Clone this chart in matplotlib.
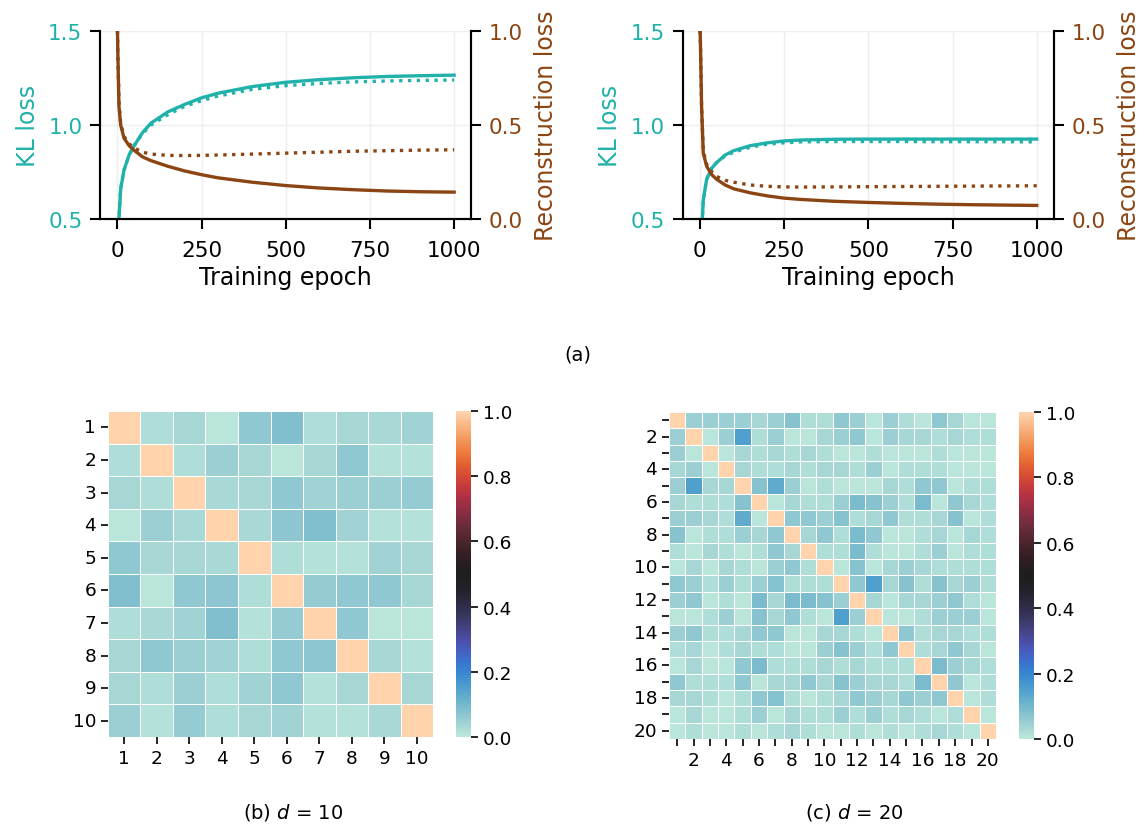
import numpy as np
import matplotlib
matplotlib.use("Agg")
import matplotlib.pyplot as plt
import seaborn as sns

TEAL = "#20b2aa"
BROWN = "#8b4513"

epochs = [0, 2, 5, 10, 20, 35, 50, 75, 100, 150, 200, 250, 300, 400, 500,
          600, 700, 800, 900, 1000]

# d = 10 run
kl10_solid = [0.10, 0.30, 0.50, 0.66, 0.76, 0.84, 0.89, 0.96, 1.01, 1.07, 1.11,
              1.145, 1.17, 1.205, 1.228, 1.242, 1.252, 1.259, 1.263, 1.266]
kl10_dotted = [0.10, 0.30, 0.50, 0.66, 0.76, 0.84, 0.89, 0.955, 1.0, 1.055, 1.10,
               1.13, 1.155, 1.19, 1.21, 1.222, 1.23, 1.235, 1.238, 1.24]
rec10_solid = [1.05, 0.85, 0.60, 0.50, 0.43, 0.39, 0.365, 0.33, 0.31, 0.28, 0.255,
               0.235, 0.218, 0.195, 0.177, 0.164, 0.155, 0.148, 0.144, 0.142]
rec10_dotted = [1.05, 0.85, 0.62, 0.51, 0.44, 0.40, 0.378, 0.355, 0.345, 0.338,
                0.337, 0.338, 0.34, 0.345, 0.35, 0.355, 0.36, 0.363, 0.366, 0.368]

# d = 20 run
kl20_solid = [0.10, 0.25, 0.42, 0.60, 0.71, 0.77, 0.80, 0.84, 0.863, 0.89, 0.905,
              0.915, 0.92, 0.924, 0.925, 0.925, 0.925, 0.925, 0.925, 0.925]
kl20_dotted = [0.10, 0.25, 0.42, 0.60, 0.71, 0.77, 0.80, 0.835, 0.855, 0.882, 0.898,
               0.905, 0.91, 0.912, 0.912, 0.912, 0.911, 0.911, 0.911, 0.91]
rec20_solid = [1.05, 0.90, 0.60, 0.35, 0.28, 0.235, 0.21, 0.18, 0.16, 0.138, 0.122,
               0.11, 0.103, 0.093, 0.087, 0.082, 0.078, 0.075, 0.073, 0.071]
rec20_dotted = [1.05, 0.90, 0.60, 0.36, 0.29, 0.25, 0.225, 0.205, 0.195, 0.18, 0.173,
                0.17, 0.169, 0.17, 0.171, 0.172, 0.173, 0.174, 0.175, 0.176]

# absolute correlations between latent dims
corr10 = [
    [1.000, .021, .035, .007, .063, .084, .021, .035, .028, .042],
    [.021, 1.000, .021, .049, .035, .007, .035, .063, .014, .014],
    [.035, .021, 1.000, .028, .035, .063, .042, .049, .049, .056],
    [.007, .049, .028, 1.000, .028, .070, .084, .042, .014, .014],
    [.063, .035, .035, .028, 1.000, .021, .014, .014, .042, .035],
    [.084, .007, .063, .070, .021, 1.000, .056, .063, .063, .035],
    [.021, .028, .042, .084, .014, .056, 1.000, .063, .007, .007],
    [.035, .063, .049, .042, .021, .063, .070, 1.000, .035, .014],
    [.035, .021, .049, .021, .042, .063, .014, .035, 1.000, .035],
    [.049, .014, .056, .021, .035, .042, .014, .014, .028, 1.000],
]

corr20 = [
    [1.00, .049, .049, .049, .049, .035, .049, .077, .021, .021, .063, .049, .007, .049, .021, .007, .063, .035, .007, .007],
    [.049, 1.00, .007, .049, .150, .021, .049, .007, .007, .035, .049, .063, .007, .049, .035, .035, .021, .035, .021, .021],
    [.049, .007, 1.00, .007, .035, .021, .035, .021, .035, .021, .007, .007, .021, .007, .007, .007, .021, .007, .007, .007],
    [.035, .049, .007, 1.00, .035, .021, .021, .035, .021, .035, .035, .021, .049, .007, .021, .021, .021, .007, .007, .007],
    [.049, .150, .035, .035, 1.00, .077, .125, .049, .007, .021, .007, .007, .007, .035, .021, .063, .063, .007, .021, .021],
    [.035, .021, .021, .021, .077, 1.00, .007, .035, .021, .021, .049, .091, .077, .049, .021, .091, .007, .063, .035, .021],
    [.049, .049, .035, .021, .125, .007, 1.00, .063, .063, .049, .077, .021, .035, .063, .021, .021, .035, .077, .007, .021],
    [.077, .007, .021, .021, .049, .035, .063, 1.00, .035, .063, .021, .091, .063, .007, .007, .021, .035, .007, .035, .021],
    [.021, .007, .035, .021, .007, .021, .063, .035, 1.00, .021, .021, .091, .021, .007, .007, .021, .049, .007, .021, .021],
    [.007, .035, .007, .035, .021, .007, .049, .063, .021, 1.00, .007, .077, .007, .035, .049, .035, .021, .021, .021, .021],
    [.063, .049, .021, .049, .021, .049, .077, .021, .021, .021, 1.00, .063, .150, .035, .077, .021, .077, .035, .049, .021],
    [.049, .063, .007, .021, .007, .091, .035, .091, .091, .077, .049, 1.00, .035, .007, .035, .035, .049, .063, .021, .007],
    [.007, .007, .021, .049, .007, .077, .035, .063, .021, .007, .150, .049, 1.00, .007, .007, .021, .049, .049, .049, .007],
    [.049, .063, .021, .021, .035, .063, .063, .007, .007, .035, .035, .021, .007, 1.00, .063, .021, .035, .035, .021, .021],
    [.021, .035, .007, .021, .035, .021, .021, .007, .007, .049, .077, .049, .021, .063, 1.00, .021, .035, .063, .035, .007],
    [.007, .035, .007, .007, .063, .091, .021, .021, .021, .035, .021, .035, .021, .021, .021, 1.00, .091, .049, .035, .021],
    [.063, .021, .021, .021, .063, .007, .035, .035, .063, .035, .077, .049, .035, .035, .021, .091, 1.00, .063, .007, .021],
    [.035, .035, .021, .007, .021, .063, .077, .021, .007, .021, .035, .063, .049, .035, .063, .049, .063, 1.00, .007, .021],
    [.007, .035, .007, .007, .021, .049, .007, .035, .021, .021, .049, .021, .049, .021, .035, .021, .007, .021, 1.00, .007],
    [.007, .021, .007, .007, .021, .007, .021, .035, .021, .007, .007, .021, .007, .021, .007, .021, .035, .021, .007, 1.00],
]

cbar_ticks = [0.0, 0.2, 0.4, 0.6, 0.8, 1.0]


def loss_panel(fig, rect, kl_solid, kl_dotted, rec_solid, rec_dotted):
    ax = fig.add_axes(rect)
    ax2 = ax.twinx()
    ax.plot(epochs, kl_solid, color=TEAL, lw=2.4)
    ax.plot(epochs, kl_dotted, color=TEAL, lw=2.4, ls=":")
    ax2.plot(epochs, rec_solid, color=BROWN, lw=2.4)
    ax2.plot(epochs, rec_dotted, color=BROWN, lw=2.4, ls=":")

    ax.set_xlim(-50, 1050)
    ax.set_ylim(0.5, 1.5)
    ax2.set_ylim(0.0, 1.0)
    ax.set_xticks([0, 250, 500, 750, 1000])
    ax.set_yticks([0.5, 1.0, 1.5])
    ax2.set_yticks([0.0, 0.5, 1.0])
    ax.grid(True, color="#eeeeee", lw=1.0)
    ax.set_axisbelow(True)

    for a in (ax, ax2):
        a.spines["top"].set_visible(False)
        for s in a.spines.values():
            s.set_linewidth(1.5)
        a.tick_params(length=7, width=1.5, labelsize=15.5, pad=6)
    ax.tick_params(axis="x", pad=8)
    ax.tick_params(axis="y", labelcolor=TEAL)
    ax2.tick_params(axis="y", labelcolor=BROWN)

    ax.set_xlabel("Training epoch", fontsize=17, labelpad=4)
    ax.set_ylabel("KL loss", color=TEAL, fontsize=17, labelpad=6)
    ax2.set_ylabel("Reconstruction loss", color=BROWN, fontsize=17, labelpad=8)
    return ax


def corr_panel(fig, rect, cbar_rect, data, every):
    ax = fig.add_axes(rect)
    cax = fig.add_axes(cbar_rect)
    mat = np.array(data)
    n = mat.shape[0]
    sns.heatmap(mat, ax=ax, cbar_ax=cax, cmap="icefire", vmin=0, vmax=1,
                linewidths=0.7, linecolor="white", square=False)
    labels = [str(i + 1) if (i + 1) % every == 0 else "" for i in range(n)]
    ax.set_xticks(np.arange(n) + 0.5)
    ax.set_yticks(np.arange(n) + 0.5)
    ax.set_xticklabels(labels, rotation=0)
    ax.set_yticklabels(labels, rotation=0)
    ax.tick_params(length=5, width=1.2, labelsize=13.3)
    cax.set_yticks(cbar_ticks)
    cax.tick_params(length=5, width=1.2, labelsize=13.3)
    return ax


fig = plt.figure(figsize=(11.39, 8.28), dpi=100)

loss_panel(fig, [0.0882, 0.7346, 0.3253, 0.2264],
           kl10_solid, kl10_dotted, rec10_solid, rec10_dotted)
loss_panel(fig, [0.5997, 0.7346, 0.3253, 0.2264],
           kl20_solid, kl20_dotted, rec20_solid, rec20_dotted)

corr_panel(fig, [0.0948, 0.1087, 0.2854, 0.3937],
           [0.4003, 0.1087, 0.0132, 0.3937], corr10, 1)
corr_panel(fig, [0.5874, 0.1063, 0.2871, 0.3949],
           [0.8946, 0.1063, 0.0132, 0.3949], corr20, 2)

fig.text(0.507, 0.571, "(a)", ha="center", va="center", fontsize=14)
fig.text(0.257, 0.019, "(b) $d$ = 10", ha="center", va="center", fontsize=14)
fig.text(0.750, 0.019, "(c) $d$ = 20", ha="center", va="center", fontsize=14)

fig.savefig("out.png", dpi=100)
